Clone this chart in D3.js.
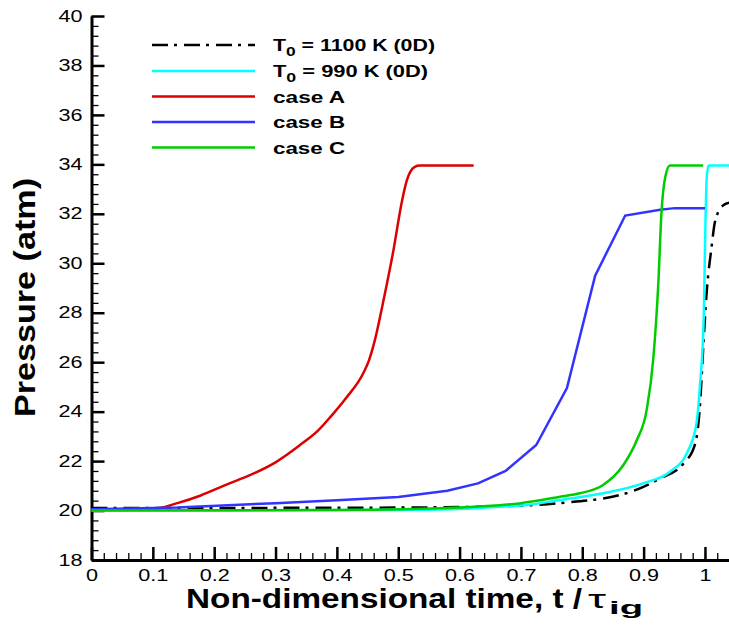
<!DOCTYPE html>
<html>
<head>
<meta charset="utf-8">
<script src="https://cdn.jsdelivr.net/npm/d3@7"></script>
<style>
body { margin: 0; background: #fff; }
svg { display: block; }
text { font-family: "Liberation Sans", Arial, sans-serif; }
</style>
</head>
<body>
<svg width="729" height="628"></svg>
<script>
// donnees
let t1100 = [0, 0.5, 0.7, 0.764, 0.872, 0.927, 0.965, 0.984, 0.992, 0.997, 1.003, 1.011, 1.015, 1.022, 1.03, 1.04];
let p1100 = [20.1, 20.12, 20.2, 20.3, 20.7, 21.3, 21.9, 22.7, 24.3, 26.5, 28.9, 30.7, 31.5, 32.1, 32.35, 32.45];

let t990 = [0, 0.5, 0.7, 0.764, 0.834, 0.899, 0.943, 0.97, 0.986, 0.992, 0.998, 1.001, 1.003, 1.006, 1.04];
let p990 = [20.0, 20.02, 20.2, 20.43, 20.7, 21.1, 21.57, 22.3, 23.5, 25.1, 27.8, 31.9, 33.5, 33.95, 33.95];

let tA = [0, 0.098, 0.14, 0.177, 0.22, 0.26, 0.3, 0.34, 0.37, 0.39, 0.415, 0.443, 0.452, 0.462, 0.476, 0.492, 0.506, 0.514, 0.527, 0.535, 0.623];
let pA = [20.05, 20.05, 20.3, 20.6, 21.05, 21.45, 21.95, 22.65, 23.25, 23.8, 24.55, 25.55, 26.05, 26.9, 28.5, 30.5, 32.5, 33.35, 33.9, 33.95, 33.95];

let tB = [0, 0.14, 0.3, 0.4, 0.5, 0.58, 0.63, 0.675, 0.725, 0.775, 0.821, 0.87, 0.927, 0.951, 1.0];
let pB = [20.05, 20.12, 20.3, 20.42, 20.55, 20.8, 21.1, 21.6, 22.65, 24.95, 29.5, 31.93, 32.16, 32.23, 32.23];

let tC = [0, 0.4, 0.6, 0.7, 0.764, 0.796, 0.834, 0.867, 0.889, 0.905, 0.916, 0.924, 0.929, 0.936, 0.943, 0.997];
let pC = [20.0, 20.02, 20.12, 20.3, 20.56, 20.7, 21.03, 21.84, 22.85, 24.07, 26.2, 29.2, 32.0, 33.57, 33.95, 33.95];

let xTicks = [0, 0.1, 0.2, 0.3, 0.4, 0.5, 0.6, 0.7, 0.8, 0.9, 1];
let yTicks = [18, 20, 22, 24, 26, 28, 30, 32, 34, 36, 38, 40];
let legendNames = ["T_0 = 1100 K (0D)", "T_0 = 990 K (0D)", "case A", "case B", "case C"];

let series = [
    { nom: legendNames[0], t: t1100, p: p1100, couleur: "#000000", tirets: "16,6,3,7", lisse: true },
    { nom: legendNames[1], t: t990, p: p990, couleur: "#00ffff", tirets: null, lisse: true },
    { nom: legendNames[2], t: tA, p: pA, couleur: "#dd0000", tirets: null, lisse: true },
    { nom: legendNames[3], t: tB, p: pB, couleur: "#3333ff", tirets: null, lisse: false },
    { nom: legendNames[4], t: tC, p: pC, couleur: "#00cc00", tirets: null, lisse: true }
];

let svg = d3.select("svg");
let x = d3.scaleLinear().domain([0, 1.04]).range([91.5, 729.5]);
let y = d3.scaleLinear().domain([18, 40]).range([560, 16]);

// etire un texte horizontalement (les polices de la figure sont plus larges)
function etirer(sel, k) {
    sel.each(function () {
        let w = this.getComputedTextLength();
        d3.select(this).attr("textLength", w * k).attr("lengthAdjust", "spacingAndGlyphs");
    });
}

// axes: petites graduations puis grandes
svg.append("g")
    .attr("transform", "translate(0,560)")
    .call(d3.axisBottom(x).tickValues(d3.range(53).map(i => i / 50)).tickSize(-7).tickSizeOuter(0).tickFormat(""))
    .call(g => g.select(".domain").remove())
    .selectAll("line").attr("stroke-width", 1.3);

svg.append("g")
    .attr("transform", "translate(91.5,0)")
    .call(d3.axisLeft(y).tickValues(d3.range(56).map(i => 18 + i * 0.4)).tickSize(-7).tickSizeOuter(0).tickFormat(""))
    .call(g => g.select(".domain").remove())
    .selectAll("line").attr("stroke-width", 1.3);

let axeX = svg.append("g")
    .attr("transform", "translate(0,560)")
    .call(d3.axisBottom(x).tickValues(xTicks).tickSize(-13).tickSizeOuter(0).tickPadding(10).tickFormat(d3.format("~g")));

let axeY = svg.append("g")
    .attr("transform", "translate(91.5,0)")
    .call(d3.axisLeft(y).tickValues(yTicks).tickSize(-13).tickSizeOuter(0).tickPadding(9));

[axeX, axeY].forEach(function (g) {
    g.select(".domain").attr("stroke-width", 3);
    g.selectAll(".tick line").attr("stroke-width", 2.5);
    g.selectAll("text")
        .attr("font-size", 16)
        .attr("font-family", "'Liberation Sans', Arial, sans-serif")
        .attr("fill", "#000")
        .call(etirer, 1.35);
});

// courbes
let ligne = d3.line().x(d => x(d[0])).y(d => y(d[1]));

series.forEach(function (s) {
    let pts = s.t.map((t, i) => [t, s.p[i]]);
    svg.append("path")
        .datum(pts)
        .attr("fill", "none")
        .attr("stroke", s.couleur)
        .attr("stroke-width", 2.5)
        .attr("stroke-dasharray", s.tirets)
        .attr("d", ligne.curve(s.lisse ? d3.curveMonotoneX : d3.curveLinear));
});

// legende
let legende = svg.append("g");
let ly = [45, 71, 96.5, 122, 147.5];
let largeurs = [162, 155, 72, 72, 72];
series.forEach(function (s, i) {
    legende.append("line")
        .attr("x1", 152).attr("x2", 255)
        .attr("y1", ly[i]).attr("y2", ly[i])
        .attr("stroke", s.couleur)
        .attr("stroke-width", 2.5)
        .attr("stroke-dasharray", s.tirets);
    let txt = legende.append("text")
        .attr("x", 273).attr("y", ly[i] + 6)
        .attr("font-size", 16)
        .attr("font-weight", "bold");
    let morceaux = s.nom.split("_0");
    txt.append("tspan").text(morceaux[0]);
    if (morceaux.length > 1) {
        txt.append("tspan").attr("font-size", 13).attr("dy", 5).text("0");
        txt.append("tspan").attr("dy", -5).text(morceaux[1]);
    }
    txt.attr("textLength", largeurs[i]).attr("lengthAdjust", "spacingAndGlyphs");
});

// titres des axes
svg.append("text")
    .attr("transform", "translate(35,417) rotate(-90)")
    .attr("font-size", 30)
    .attr("font-weight", "bold")
    .attr("textLength", 239).attr("lengthAdjust", "spacingAndGlyphs")
    .text("Pressure (atm)");

svg.append("text")
    .attr("x", 186).attr("y", 608)
    .attr("font-size", 28)
    .attr("font-weight", "bold")
    .attr("textLength", 396).attr("lengthAdjust", "spacingAndGlyphs")
    .text("Non-dimensional time, t /");
svg.append("text")
    .attr("x", 588).attr("y", 608)
    .attr("font-size", 26)
    .attr("font-family", "'DejaVu Serif', serif")
    .attr("textLength", 18).attr("lengthAdjust", "spacingAndGlyphs")
    .text("\u03c4");
svg.append("text")
    .attr("x", 609).attr("y", 614)
    .attr("font-size", 19)
    .attr("font-weight", "bold")
    .attr("textLength", 34).attr("lengthAdjust", "spacingAndGlyphs")
    .text("ig");
</script>
</body>
</html>
